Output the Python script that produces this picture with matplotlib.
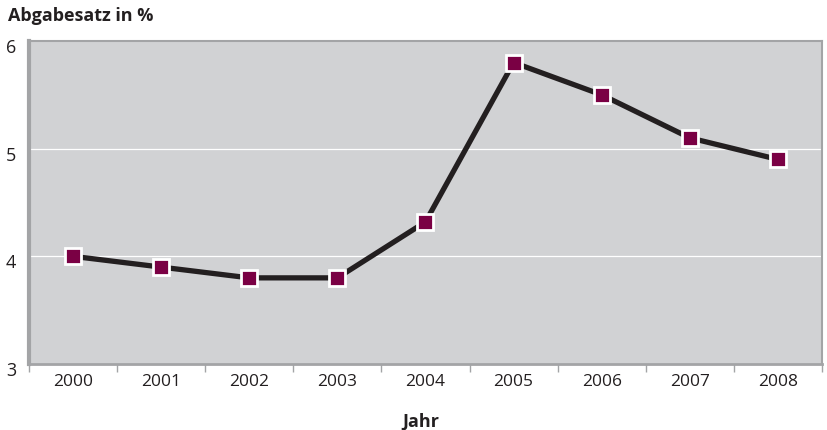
import matplotlib
matplotlib.use("Agg")
import matplotlib.pyplot as plt
import matplotlib.transforms as mtrans
import numpy as np

years = ["2000", "2001", "2002", "2003", "2004", "2005", "2006", "2007", "2008"]
values = [4.0, 3.9, 3.8, 3.8, 4.32, 5.8, 5.5, 5.1, 4.9]
yticks = [3, 4, 5, 6]

plt.rcParams['font.family'] = ['Open Sans', 'DejaVu Sans']

fig = plt.figure(figsize=(8.28, 4.3), dpi=100)
ax = fig.add_axes([29/828, 66/430, 793/828, 323/430])
ax.set_facecolor('#d1d2d4')

x = np.arange(len(years))
ax.set_xlim(-0.5, len(years) - 0.5)
ax.set_ylim(3, 6)

for yv in yticks[1:-1]:
    ax.axhline(yv, color='white', lw=0.9, zorder=1)

ax.plot(x, values, color='#231f20', lw=3.8, zorder=2, solid_joinstyle='miter')
ax.plot(x, values, ls='none', marker='s', markersize=12, markerfacecolor='#7a0044',
        markeredgecolor='white', markeredgewidth=2, zorder=3)

for s in ax.spines.values():
    s.set_color('#a3a4a6')
    s.set_linewidth(1.5)
ax.spines['left'].set_linewidth(3)
ax.spines['bottom'].set_linewidth(2)

ax.set_xticks(np.arange(-0.5, len(years), 1.0))
ax.set_xticklabels([])
ax.set_xticks(x, minor=True)
ax.set_xticklabels(years, minor=True, fontsize=12.5, color='#231f20')
ax.tick_params(axis='x', which='major', length=6, width=1, color='#a3a4a6', direction='out')
ax.tick_params(axis='x', which='minor', length=0, pad=7)

ax.set_yticks(yticks)
ax.set_yticklabels([str(v) for v in yticks], fontsize=13, color='#231f20')
ax.tick_params(axis='y', length=0, pad=9)
off = mtrans.ScaledTranslation(0, -5/100, fig.dpi_scale_trans)
for lbl in ax.get_yticklabels():
    lbl.set_transform(lbl.get_transform() + off)

fig.text(8/828, 1 - 16/430, "Abgabesatz in %", fontsize=13, fontweight='bold',
         color='#231f20', va='center', ha='left')
fig.text(421/828, 1 - 422/430, "Jahr", fontsize=13, fontweight='bold',
         color='#231f20', va='center', ha='center')

fig.savefig("out.png", dpi=100)
